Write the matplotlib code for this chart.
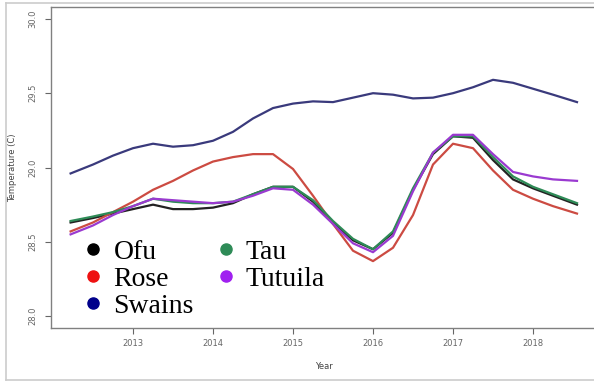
import matplotlib
matplotlib.use("Agg")
import matplotlib.pyplot as plt
from matplotlib.lines import Line2D

# Smoothed quarterly sea temperature by site
years = [2012.22, 2012.5, 2012.75, 2013.0, 2013.25, 2013.5, 2013.75, 2014.0,
         2014.25, 2014.5, 2014.75, 2015.0, 2015.25, 2015.5, 2015.75, 2016.0,
         2016.25, 2016.5, 2016.75, 2017.0, 2017.25, 2017.5, 2017.75, 2018.0,
         2018.25, 2018.55]

ofu = [28.63, 28.66, 28.69, 28.72, 28.75, 28.72, 28.72, 28.73, 28.76, 28.82,
       28.87, 28.87, 28.77, 28.63, 28.51, 28.45, 28.56, 28.85, 29.09, 29.21,
       29.20, 29.05, 28.92, 28.86, 28.81, 28.75]
rose = [28.57, 28.63, 28.70, 28.77, 28.85, 28.91, 28.98, 29.04, 29.07, 29.09,
        29.09, 28.99, 28.81, 28.62, 28.44, 28.37, 28.46, 28.68, 29.02, 29.16,
        29.13, 28.98, 28.85, 28.79, 28.74, 28.69]
swains = [28.96, 29.02, 29.08, 29.13, 29.16, 29.14, 29.15, 29.18, 29.24, 29.33,
          29.40, 29.43, 29.445, 29.44, 29.47, 29.50, 29.49, 29.465, 29.47,
          29.50, 29.54, 29.59, 29.57, 29.53, 29.49, 29.44]
tau = [28.64, 28.67, 28.70, 28.74, 28.79, 28.77, 28.76, 28.76, 28.77, 28.82,
       28.87, 28.87, 28.78, 28.64, 28.52, 28.45, 28.57, 28.86, 29.10, 29.21,
       29.21, 29.07, 28.94, 28.87, 28.82, 28.76]
tutuila = [28.55, 28.61, 28.68, 28.74, 28.79, 28.78, 28.77, 28.76, 28.77, 28.81,
           28.86, 28.85, 28.75, 28.62, 28.49, 28.43, 28.54, 28.84, 29.10, 29.22,
           29.22, 29.09, 28.97, 28.94, 28.92, 28.91]

sites = ["Ofu", "Rose", "Swains", "Tau", "Tutuila"]
series = [ofu, rose, swains, tau, tutuila]
line_colors = ["#222222", "#cc4b42", "#3a3a7c", "#2e8b57", "#9a3ad0"]
dot_colors = ["#000000", "#ee1111", "#00008b", "#2e8b57", "#a020f0"]

xticks = [2013, 2014, 2015, 2016, 2017, 2018]
yticks = [28.0, 28.5, 29.0, 29.5, 30.0]

fig = plt.figure(figsize=(5.94, 3.83), dpi=100)
ax = fig.add_axes([51 / 594, 55 / 383, 546 / 594, 321 / 383])

for vals, c in zip(series, line_colors):
    ax.plot(years, vals, color=c, lw=1.6, solid_joinstyle="round")

ax.set_xlim(2011.975, 2018.80)
ax.set_ylim(27.92, 30.08)
ax.set_xticks(xticks)
ax.set_yticks(yticks)
ax.set_yticklabels([f"{v:.1f}" for v in yticks], rotation=90, va="center")
ax.tick_params(labelsize=6, colors="#666666", length=4, width=0.8)
ax.tick_params(axis="x", pad=4)
ax.tick_params(axis="y", pad=6)
for side in ["left", "top", "bottom"]:
    ax.spines[side].set_color("#808080")
    ax.spines[side].set_linewidth(1.0)
ax.spines["right"].set_visible(False)

ax.set_xlabel("Year", fontsize=6, color="#444444")
ax.set_ylabel("Temperature (C)", fontsize=6, color="#444444")
ax.xaxis.set_label_coords(0.5, -0.107)
ax.yaxis.set_label_coords(-0.062, 0.5)

handles = [Line2D([], [], ls="none", marker="o", ms=8, color=c)
           for c in dot_colors]
ax.legend(handles, sites, ncol=2, frameon=False, loc="upper left",
          bbox_to_anchor=(0.037, 0.31), prop={"family": "Liberation Serif", "size": 20},
          handlelength=0.8, handletextpad=0.32, columnspacing=0.75,
          labelspacing=0.05, borderaxespad=0)

# light frame round the whole figure
fr = dict(color="#cccccc", lw=1.2, transform=fig.transFigure)
fig.add_artist(Line2D([6 / 594, 1], [1 - 3 / 383, 1 - 3 / 383], **fr))
fig.add_artist(Line2D([6 / 594, 6 / 594], [3 / 383, 1 - 3 / 383], **fr))
fig.add_artist(Line2D([6 / 594, 1], [3 / 383, 3 / 383], **fr))

fig.savefig("out.png", dpi=100)
